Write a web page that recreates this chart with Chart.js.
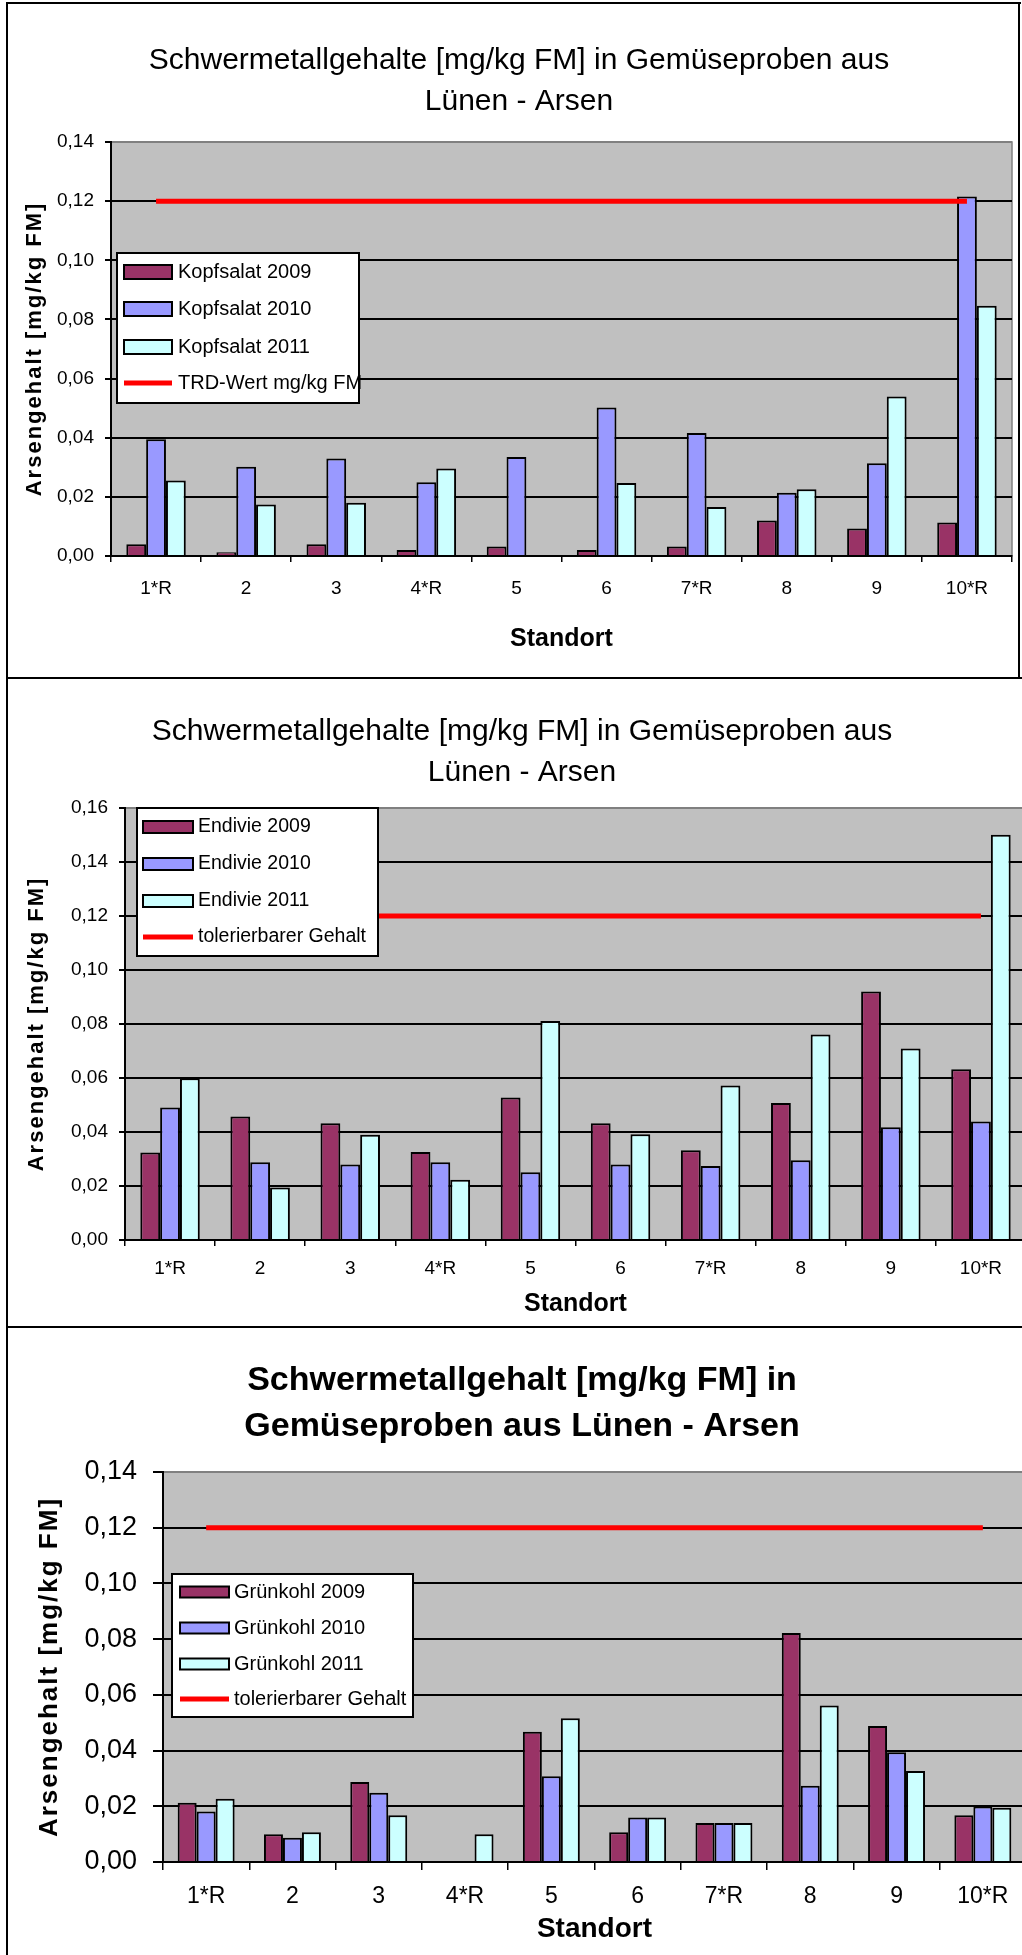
<!DOCTYPE html>
<html lang="de">
<head>
    <meta charset="UTF-8">
    <title>Schwermetallgehalte Lünen - Arsen</title>
    <script src="https://cdn.jsdelivr.net/npm/chart.js"></script>
    <style>
        html, body { margin: 0; padding: 0; background: #fff; }
        #page { position: relative; width: 1022px; height: 1955px; overflow: hidden; }
        .panel { position: absolute; left: 0; }
        .rule { position: absolute; background: #000; }
    </style>
</head>
<body>
<div id="page">
    <div class="panel" style="top:0"><canvas id="kopfsalat" width="1022" height="679"></canvas></div>
    <div class="panel" style="top:679px"><canvas id="endivie" width="1026" height="648"></canvas></div>
    <div class="panel" style="top:1330px"><canvas id="gruenkohl" width="1026" height="625"></canvas></div>

    <div class="rule" style="left:6px;top:2px;width:2px;height:1953px"></div>
    <div class="rule" style="left:6px;top:2px;width:1015px;height:2px"></div>
    <div class="rule" style="left:1018px;top:2px;width:2px;height:677px"></div>
    <div class="rule" style="left:6px;top:677px;width:1016px;height:2px"></div>
    <div class="rule" style="left:6px;top:1326px;width:1016px;height:2px"></div>
</div>

<script>
    // Daten
    const standorte = ['1*R', '2', '3', '4*R', '5', '6', '7*R', '8', '9', '10*R'];

    const kopfsalat2009 = [0.0040, 0.0013, 0.0040, 0.0020, 0.0032, 0.0020, 0.0032, 0.0120, 0.0093, 0.0113];
    const kopfsalat2010 = [0.0395, 0.0302, 0.0330, 0.0249, 0.0335, 0.0502, 0.0416, 0.0214, 0.0314, 0.1216];
    const kopfsalat2011 = [0.0255, 0.0174, 0.0180, 0.0296, null, 0.0247, 0.0166, 0.0226, 0.0539, 0.0846];
    const trdWert = [0.12, 0.12, 0.12, 0.12, 0.12, 0.12, 0.12, 0.12, 0.12, 0.12];

    const endivie2009 = [0.0324, 0.0457, 0.0432, 0.0326, 0.0528, 0.0432, 0.0332, 0.0507, 0.0920, 0.0632];
    const endivie2010 = [0.0491, 0.0288, 0.0280, 0.0288, 0.0251, 0.0280, 0.0274, 0.0295, 0.0418, 0.0439];
    const endivie2011 = [0.0599, 0.0194, 0.0390, 0.0223, 0.0811, 0.0392, 0.0572, 0.0761, 0.0709, 0.1501];

    const gruenkohl2009 = [0.0213, 0.0100, 0.0287, null, 0.0468, 0.0107, 0.0140, 0.0822, 0.0488, 0.0168];
    const gruenkohl2010 = [0.0181, 0.0087, 0.0249, null, 0.0308, 0.0160, 0.0140, 0.0274, 0.0394, 0.0199];
    const gruenkohl2011 = [0.0227, 0.0107, 0.0168, 0.0100, 0.0516, 0.0160, 0.0140, 0.0562, 0.0327, 0.0195];
    const toleriert = [0.12, 0.12, 0.12, 0.12, 0.12, 0.12, 0.12, 0.12, 0.12, 0.12];

    const FONT = '"Liberation Sans", Arial, sans-serif';

    // grauer Hintergrund der Zeichenfläche
    const plotBackground = {
        id: 'plotBackground',
        beforeDraw(chart) {
            const { ctx, chartArea: a } = chart;
            ctx.save();
            ctx.fillStyle = '#c0c0c0';
            ctx.fillRect(a.left, a.top, a.right - a.left, a.bottom - a.top);
            ctx.strokeStyle = '#808080';
            ctx.lineWidth = 1.5;
            ctx.strokeRect(a.left, a.top, a.right - a.left, a.bottom - a.top);
            ctx.restore();
        }
    };

    // Titel verschieben und Achsentitel sperren
    const tweaks = {
        id: 'tweaks',
        afterLayout(chart, args, opts) {
            const t = chart.titleBlock;
            if (t && opts.dx) {
                t.left += opts.dx;
                t.right += opts.dx;
            }
        },
        beforeDraw(chart, args, opts) {
            const y = chart.scales.y;
            if (y && !y._spaced) {
                const orig = y.drawTitle;
                y.drawTitle = function () {
                    this.ctx.save();
                    this.ctx.letterSpacing = opts.spacing + 'px';
                    orig.call(this);
                    this.ctx.restore();
                };
                y._spaced = true;
            }
        }
    };

    // Legende im Diagramm, wie in Excel
    const boxLegend = {
        id: 'boxLegend',
        afterDatasetsDraw(chart, args, o) {
            const ctx = chart.ctx;
            ctx.save();
            ctx.fillStyle = '#fff';
            ctx.fillRect(o.x, o.y, o.w, o.h);
            ctx.strokeStyle = '#000';
            ctx.lineWidth = 2;
            ctx.strokeRect(o.x, o.y, o.w, o.h);
            ctx.font = o.size + 'px ' + FONT;
            ctx.textBaseline = 'middle';
            chart.data.datasets.forEach((ds, i) => {
                const cy = o.rows[i];
                if (ds.type === 'line') {
                    ctx.strokeStyle = ds.borderColor;
                    ctx.lineWidth = 5;
                    ctx.beginPath();
                    ctx.moveTo(o.sx, cy);
                    ctx.lineTo(o.sx + o.sw, cy);
                    ctx.stroke();
                } else {
                    ctx.fillStyle = ds.backgroundColor;
                    ctx.fillRect(o.sx, cy - o.sh / 2, o.sw, o.sh);
                    ctx.strokeStyle = '#000';
                    ctx.lineWidth = 2;
                    ctx.strokeRect(o.sx, cy - o.sh / 2, o.sw, o.sh);
                }
                ctx.fillStyle = '#000';
                ctx.fillText(ds.label, o.tx, cy);
            });
            ctx.restore();
        }
    };

    function bars(label, data, color) {
        return {
            label: label, data: data, backgroundColor: color,
            borderColor: '#000', borderWidth: 2, borderSkipped: 'bottom',
            barPercentage: 1, categoryPercentage: 0.66, order: 1
        };
    }

    function makeChart(id, c) {
        return new Chart(document.getElementById(id), {
            type: 'bar',
            data: {
                labels: standorte,
                datasets: [
                    bars(c.names[0], c.series[0], '#993366'),
                    bars(c.names[1], c.series[1], '#9999ff'),
                    bars(c.names[2], c.series[2], '#ccffff'),
                    {
                        type: 'line', label: c.lineLabel, data: c.line,
                        borderColor: '#ff0000', borderWidth: 5, pointRadius: 0, order: 0
                    }
                ]
            },
            options: {
                responsive: false,
                animation: false,
                layout: { padding: { left: 0, right: c.padRight, top: 0, bottom: 0 } },
                plugins: {
                    legend: { display: false },
                    tooltip: { enabled: false },
                    title: {
                        display: true, text: c.title, color: '#000',
                        font: { family: FONT, size: c.titleSize, weight: c.titleWeight, lineHeight: c.titleLH + 'px' },
                        padding: { top: c.titleTop, bottom: c.titleBottom }
                    },
                    tweaks: { dx: c.titleDx, spacing: 2 },
                    boxLegend: c.legend
                },
                scales: {
                    x: {
                        grid: { offset: true, drawOnChartArea: false, color: '#000', lineWidth: 1.5, tickLength: c.xTick },
                        border: { color: '#000', width: 2 },
                        ticks: { color: '#000', font: { family: FONT, size: c.xFont }, padding: c.xPad, maxRotation: 0 },
                        title: {
                            display: true, text: 'Standort', color: '#000',
                            font: { family: FONT, size: c.standortSize, weight: 'bold', lineHeight: 1.2 },
                            padding: { top: 0, bottom: c.standortBottom }
                        },
                        afterFit: s => { s.height = c.xHeight; }
                    },
                    y: {
                        min: 0, max: c.max,
                        ticks: {
                            stepSize: 0.02, color: '#000', padding: c.yPad,
                            font: { family: FONT, size: c.yFont },
                            callback: v => v.toFixed(2).replace('.', ',')
                        },
                        grid: {
                            color: g => (g.tick && g.tick.value > c.max - 0.001) ? '#808080' : '#000',
                            tickColor: '#000', lineWidth: 2, tickLength: c.yTick
                        },
                        border: { color: '#000', width: 2 },
                        title: {
                            display: true, text: 'Arsengehalt [mg/kg FM]', color: '#000',
                            font: { family: FONT, size: c.yTitleSize, weight: 'bold', lineHeight: 1.2 },
                            padding: { top: c.yTitleTop, bottom: 0 }
                        },
                        afterFit: s => { s.width = c.yWidth; }
                    }
                }
            },
            plugins: [plotBackground, tweaks, boxLegend]
        });
    }

    makeChart('kopfsalat', {
        names: ['Kopfsalat 2009', 'Kopfsalat 2010', 'Kopfsalat 2011'],
        series: [kopfsalat2009, kopfsalat2010, kopfsalat2011],
        lineLabel: 'TRD-Wert mg/kg FM', line: trdWert, max: 0.14,
        title: ['Schwermetallgehalte [mg/kg FM] in Gemüseproben aus', 'Lünen - Arsen'],
        titleSize: 30, titleWeight: 'normal', titleLH: 41, titleTop: 40, titleBottom: 20, titleDx: 13,
        padRight: 10,
        yWidth: 111, yTick: 6, yPad: 11, yFont: 19, yTitleSize: 22, yTitleTop: 22,
        xHeight: 123, xTick: 6, xPad: 15, xFont: 19, standortSize: 25, standortBottom: 25,
        legend: { x: 117, y: 253, w: 242, h: 150, rows: [272, 309, 347, 383], sx: 124, sw: 48, sh: 14, tx: 178, size: 20 }
    });

    makeChart('endivie', {
        names: ['Endivie 2009', 'Endivie 2010', 'Endivie 2011'],
        series: [endivie2009, endivie2010, endivie2011],
        lineLabel: 'tolerierbarer Gehalt', line: toleriert, max: 0.16,
        title: ['Schwermetallgehalte [mg/kg FM] in Gemüseproben aus', 'Lünen - Arsen'],
        titleSize: 30, titleWeight: 'normal', titleLH: 41, titleTop: 32, titleBottom: 15, titleDx: 9,
        padRight: 0,
        yWidth: 125, yTick: 6, yPad: 11, yFont: 19, yTitleSize: 22, yTitleTop: 24,
        xHeight: 87, xTick: 6, xPad: 11, xFont: 19, standortSize: 25, standortBottom: 8,
        legend: { x: 137, y: 129, w: 241, h: 148, rows: [148, 185, 222, 258], sx: 143, sw: 50, sh: 12, tx: 198, size: 19.5 }
    });

    makeChart('gruenkohl', {
        names: ['Grünkohl 2009', 'Grünkohl 2010', 'Grünkohl 2011'],
        series: [gruenkohl2009, gruenkohl2010, gruenkohl2011],
        lineLabel: 'tolerierbarer Gehalt', line: toleriert, max: 0.14,
        title: ['Schwermetallgehalt [mg/kg FM] in', 'Gemüseproben aus Lünen - Arsen'],
        titleSize: 34, titleWeight: 'bold', titleLH: 46, titleTop: 28, titleBottom: 22, titleDx: 9,
        padRight: 0,
        yWidth: 163, yTick: 10, yPad: 16, yFont: 27, yTitleSize: 26, yTitleTop: 34,
        xHeight: 93, xTick: 8, xPad: 13, xFont: 23, standortSize: 28, standortBottom: 9,
        legend: { x: 172, y: 244, w: 241, h: 143, rows: [262, 298, 334, 369], sx: 180, sw: 49, sh: 11, tx: 234, size: 20 }
    });
</script>
</body>
</html>
